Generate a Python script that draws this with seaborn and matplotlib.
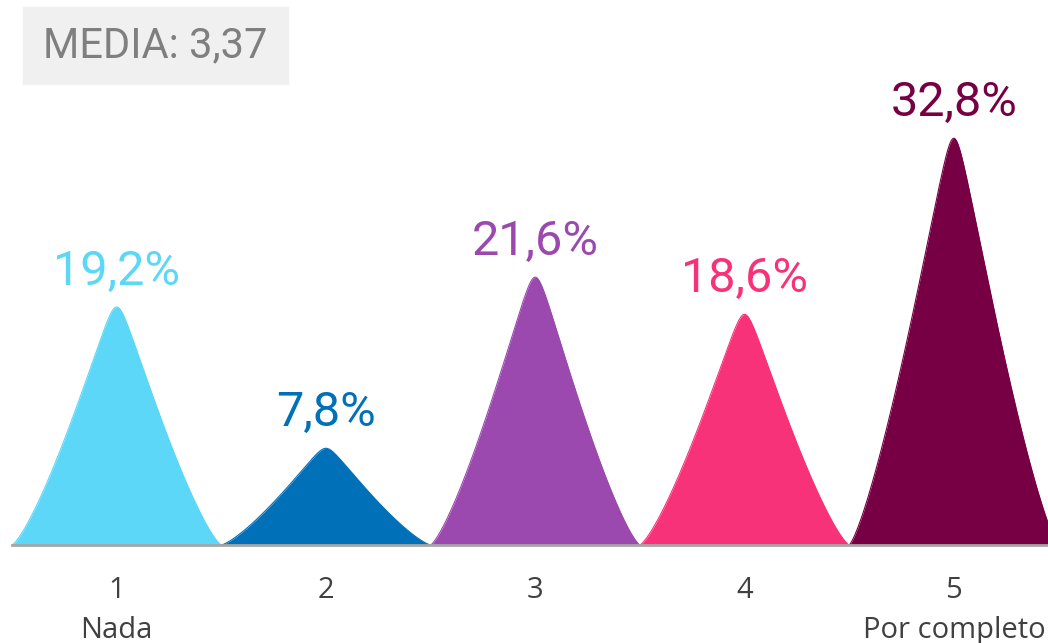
import numpy as np
import pandas as pd
import seaborn as sns
import matplotlib.pyplot as plt
from matplotlib.patches import Rectangle

# chart data
categories = [1, 2, 3, 4, 5]
tick_labels = ["1\nNada", "2", "3", "4", "5\nPor completo"]
values = [19.2, 7.8, 21.6, 18.6, 32.8]
value_labels = ["19,2%", "7,8%", "21,6%", "18,6%", "32,8%"]
colors = ["#5CD7F7", "#0070B8", "#9B48AF", "#F83279", "#760043"]
media_label = "MEDIA: 3,37"

label_font = ["Roboto", "DejaVu Sans"]


def peak_shape(t, e=0.07, p=1.3):
    # rounded triangle with soft base, t in [-1, 1]
    u = (np.sqrt(t ** 2 + e ** 2) - e) / (np.sqrt(1 + e ** 2) - e)
    return np.clip(1 - u, 0, 1) ** p


# build the peak outlines
t = np.linspace(-1, 1, 401)
rows = []
for cat, val in zip(categories, values):
    rows.append(pd.DataFrame({"x": cat + 0.5 * t, "y": val * peak_shape(t), "category": cat}))
peaks = pd.concat(rows, ignore_index=True)

sns.set_theme(style="white")
fig = plt.figure(figsize=(10.48, 6.43), dpi=100)
ax = fig.add_axes([12 / 1048, 1 - 545 / 643, 1 - 12 / 1048, 545 / 643])

sns.lineplot(data=peaks, x="x", y="y", hue="category", palette=colors,
             legend=False, linewidth=0.8, ax=ax, sort=False)
for cat, col in zip(categories, colors):
    sub = peaks[peaks["category"] == cat]
    ax.fill_between(sub["x"], 0, sub["y"], color=col, linewidth=0)

for cat, val, lab, col in zip(categories, values, value_labels, colors):
    ax.text(cat, val + 1.8, lab, ha="center", va="baseline", color=col,
            fontsize=35, family=label_font)

ax.set_xlim(0.5, 5.45)
ax.set_ylim(0, 545 / 12.4)
ax.set_xlabel("")
ax.set_ylabel("")
ax.set_yticks([])
ax.set_xticks(categories)
ax.set_xticklabels(tick_labels, fontsize=21, color="#404040", family="Open Sans",
                   linespacing=1.5)
ax.tick_params(axis="x", length=0, pad=22)
for s in ["top", "right", "left"]:
    ax.spines[s].set_visible(False)
ax.spines["bottom"].set_color("#A6A6A6")
ax.spines["bottom"].set_linewidth(2)
ax.spines["bottom"].set_zorder(5)

# mean box
fig.patches.append(Rectangle((23 / 1048, 1 - 84 / 643), 265 / 1048, 77 / 643,
                             transform=fig.transFigure, color="#F0F0F0", zorder=0))
fig.text(155 / 1048, 1 - 46 / 643, media_label, ha="center", va="center",
         color="#7F7F7F", fontsize=30, family=label_font)

fig.savefig("out.png", dpi=100)
